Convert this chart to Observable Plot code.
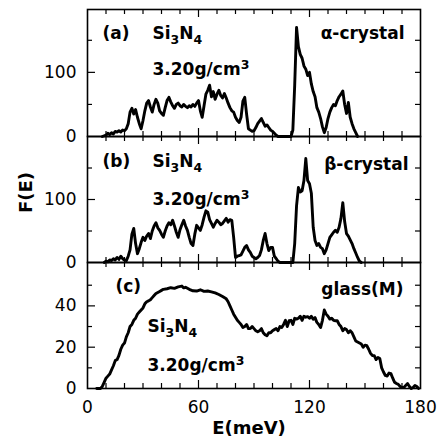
<!DOCTYPE html>
<html><head><meta charset="utf-8">
<script src="https://cdn.jsdelivr.net/npm/d3@7"></script>
<script src="https://cdn.jsdelivr.net/npm/@observablehq/plot@0.6"></script>
<style>
body{margin:0;background:#fff;}
#chart{position:relative;width:439px;height:438px;overflow:hidden;}
#chart svg{position:absolute;left:0;}
</style></head><body><div id="chart"></div>
<script>
// [E (meV), F(E)]
const alphaCrystal = [[8,0],[10,2],[11,5],[12,3],[13,6],[14,4],[15,8],[16,7],[17,9],[18,7],[19,10],[20,9],[21,12],[22,20],[23,38],[24,44],[25,35],[26,42],[27,30],[28,20],[29,12],[30,25],[31,40],[32,52],[33,56],[34,46],[35,38],[36,50],[37,58],[38,52],[39,40],[40,36],[41,33],[42,45],[43,56],[44,61],[45,54],[46,48],[47,44],[48,50],[49,52],[50,48],[51,46],[52,50],[53,47],[54,45],[55,48],[56,46],[57,50],[58,47],[59,52],[60,56],[61,40],[62,30],[63,48],[64,66],[65,72],[66,80],[67,62],[68,70],[69,58],[70,66],[71,72],[72,64],[73,60],[74,67],[75,60],[76,52],[77,45],[78,40],[79,38],[80,30],[81,25],[82,22],[83,30],[84,55],[85,61],[86,35],[87,12],[88,10],[89,8],[90,9],[91,14],[92,20],[93,24],[94,28],[95,22],[96,16],[97,18],[98,14],[99,10],[100,8],[101,5],[102,2],[103,0],[110,0],[111,10],[112,80],[113,170],[114,140],[115,128],[116,122],[117,110],[118,105],[119,95],[120,100],[121,82],[122,70],[123,62],[124,45],[125,38],[126,28],[127,15],[128,6],[129,14],[130,28],[131,38],[132,45],[133,50],[134,48],[135,56],[136,62],[137,66],[138,71],[139,50],[140,36],[141,53],[142,30],[143,20],[144,12],[145,6],[146,0]];

const betaCrystal = [[9,0],[10,2],[11,1],[12,4],[13,3],[14,6],[15,4],[16,8],[17,5],[18,10],[19,6],[20,4],[21,3],[22,10],[23,20],[24,45],[25,54],[26,30],[27,14],[28,22],[29,32],[30,40],[31,35],[32,42],[33,46],[34,38],[35,50],[36,58],[37,63],[38,55],[39,51],[40,45],[41,40],[42,50],[43,58],[44,63],[45,60],[46,67],[47,58],[48,48],[49,40],[50,52],[51,60],[52,67],[53,58],[54,51],[55,40],[56,30],[57,27],[58,45],[59,59],[60,55],[61,51],[62,60],[63,72],[64,82],[65,80],[66,68],[67,62],[68,56],[69,62],[70,67],[71,64],[72,60],[73,62],[74,66],[75,70],[76,64],[77,68],[78,67],[79,40],[80,8],[81,10],[82,11],[83,12],[84,18],[85,24],[86,27],[87,20],[88,16],[89,10],[90,8],[91,6],[92,8],[93,11],[94,20],[95,35],[96,46],[97,30],[98,19],[99,24],[100,24],[101,10],[102,6],[103,2],[104,0],[111,0],[112,30],[113,90],[114,119],[115,112],[116,114],[117,130],[118,165],[119,130],[120,125],[121,110],[122,56],[123,35],[124,27],[125,30],[126,24],[127,22],[128,14],[129,20],[130,30],[131,40],[132,44],[133,48],[134,51],[135,48],[136,56],[137,70],[138,95],[139,65],[140,46],[141,42],[142,36],[143,30],[144,22],[145,15],[146,8],[147,2],[148,0]];

const glassM = [[5,0],[7,0],[8,1],[9,3],[10,5],[11,6],[12,7],[13,9],[14,11],[15,13.5],[16,14],[17,16],[18,19],[19,21],[20,22],[21,25],[22,27],[23,30],[24,31],[25,33],[26,34],[27,36],[28,37],[29,38],[30,39],[31,41],[32,42],[33,42.4],[34,43],[35,44],[36,45],[37,46],[38,46.5],[39,47],[40,47.5],[41,48],[43,48.3],[45,48.8],[47,48.5],[49,49.2],[51,49.6],[52,48.7],[53,49],[55,48],[57,47.3],[59,47.2],[61,47.8],[63,47],[65,47.2],[67,46.8],[69,46.3],[71,45.5],[73,44.5],[75,43.4],[76,42],[77,40],[78,38],[79,36],[80,34.5],[81,33],[82,32],[83,31],[84,29.5],[85,30],[86,31],[87,29],[88,29],[89,30],[90,29],[91,28],[92,27.5],[93,28],[94,29],[95,27],[96,26],[97,25.5],[98,27],[99,27],[100,28],[101,28.5],[102,29],[103,28],[104,30],[105,29.5],[106,31],[107,33],[108,30],[109,32.8],[110,33],[111,31],[112,34],[113,33.6],[114,34],[115,35],[116,33],[117,35],[118,34.5],[119,34.8],[120,34],[121,35],[122,33.5],[123,34.3],[124,32],[125,31],[126,29.5],[127,33],[128,38],[129,36],[130,35],[131,33.6],[132,34],[133,33],[134,32.8],[135,32.8],[136,31],[137,30],[138,28],[139,29],[140,28.5],[141,27],[142,28],[143,27],[144,25],[145,23],[146,22.5],[147,22],[148,21.5],[149,20],[150,21],[151,20.7],[152,19],[153,17],[154,16],[155,15.9],[156,14],[157,15],[158,14.5],[159,10],[160,8],[161,6.3],[162,6],[163,7.5],[164,7.2],[165,5],[166,3],[167,2.4],[168,2],[169,1],[170,0.5],[171,0.5],[172,1.5],[173,2.4],[174,1],[175,0],[176,0.5],[177,1.5],[178,1],[179,0]];

const xMinorTicks = [10,20,30,40,50,70,80,90,100,110,130,140,150,160,170];
const xMajorTicks = [60,120];
const xTickLabels = [0,60,120,180];
const crystalMinorTicks = [50,150];
const crystalMajorTicks = [100];
const crystalTickLabels = [0,100];
const glassMinorTicks = [10,30,50];
const glassMajorTicks = [20,40];
const glassTickLabels = [0,20,40];

const FONT = "'DejaVu Sans', 'Liberation Sans', sans-serif";
const W = 439, ML = 87, MR = 19;
const IW = W - ML - MR;

// rich text: parts with sub/superscripts, applied to Plot's text elements
const richText = {
  "Si3N4": [["Si", 0], ["3", 1], ["N", -1], ["4", 1]],
  "3.20g/cm3": [["3.20g/cm", 0], ["3", -1]]
};

function panel({data, yDomain, yMinor, yMajor, yLabels, top, height, marginBottom, texts, xAxis}) {
  const IH = height - 9 - marginBottom;
  const marks = [
    Plot.ruleX(xMinorTicks, {x: d => d, insetTop: IH - 5, strokeWidth: 1.2}),
    Plot.ruleX(xMinorTicks, {x: d => d, insetBottom: IH - 5, strokeWidth: 1.2}),
    Plot.ruleX(xMajorTicks, {x: d => d, insetTop: IH - 8, strokeWidth: 1.2}),
    Plot.ruleX(xMajorTicks, {x: d => d, insetBottom: IH - 8, strokeWidth: 1.2}),
    Plot.ruleY(yMinor, {y: d => d, insetRight: IW - 5, strokeWidth: 1.2}),
    Plot.ruleY(yMinor, {y: d => d, insetLeft: IW - 5, strokeWidth: 1.2}),
    Plot.ruleY(yMajor, {y: d => d, insetRight: IW - 8, strokeWidth: 1.2}),
    Plot.ruleY(yMajor, {y: d => d, insetLeft: IW - 5, strokeWidth: 1.2}),
    Plot.axisY(yLabels, {tickSize: 0, tickPadding: 11, label: null, fontSize: 17}),
    Plot.line(data, {x: d => d[0], y: d => d[1], strokeWidth: 2.9, strokeLinejoin: "round"}),
    Plot.frame({strokeWidth: 1.6}),
    ...texts.map(t => Plot.text([t.text], {
      text: d => d, frameAnchor: t.anchor, dx: t.dx, dy: t.dy,
      textAnchor: t.textAnchor || "start", lineAnchor: "middle",
      fontWeight: "bold", fontSize: t.size || 17, rotate: t.rotate || 0
    }))
  ];
  if (xAxis) marks.push(Plot.axisX(xTickLabels, {tickSize: 0, tickPadding: 12, label: null, fontSize: 17}));
  const svg = Plot.plot({
    width: W, height,
    marginLeft: ML, marginRight: MR, marginTop: 9, marginBottom,
    style: {fontFamily: FONT, fontSize: "17px", background: "transparent", overflow: "visible", color: "black"},
    x: {domain: [0, 180], axis: null},
    y: {domain: yDomain, axis: null},
    marks
  });
  d3.select(svg).selectAll("text").each(function() {
    const parts = richText[this.textContent];
    if (!parts) return;
    const el = d3.select(this);
    el.text(null);
    let shift = 0;
    for (const [s, pos] of parts) {
      const ts = el.append("tspan").text(s);
      const target = pos === 1 ? 5 : pos === -1 ? -6 : 0;
      if (pos === -1 && s === "N") { ts.attr("dy", -5); shift = 0; continue; }
      const d = target - shift;
      if (d) ts.attr("dy", d);
      shift = target;
      if (pos !== 0) ts.attr("font-size", 12.5);
    }
  });
  svg.style.top = top + "px";
  document.getElementById("chart").appendChild(svg);
}

panel({data: alphaCrystal, yDomain: [0, 198], yMinor: crystalMinorTicks, yMajor: crystalMajorTicks, yLabels: crystalTickLabels,
  top: 0, height: 140, marginBottom: 4, xAxis: false,
  texts: [
    {text: "(a)", anchor: "top-left", dx: 15, dy: 24},
    {text: "Si3N4", anchor: "top-left", dx: 65, dy: 24},
    {text: "3.20g/cm3", anchor: "top-left", dx: 65, dy: 60},
    {text: "α-crystal", anchor: "top-right", dx: -16, dy: 24, textAnchor: "end"}
  ]});

panel({data: betaCrystal, yDomain: [0, 200], yMinor: crystalMinorTicks, yMajor: crystalMajorTicks, yLabels: crystalTickLabels,
  top: 127, height: 140, marginBottom: 5, xAxis: false,
  texts: [
    {text: "(b)", anchor: "top-left", dx: 15, dy: 25},
    {text: "Si3N4", anchor: "top-left", dx: 65, dy: 25},
    {text: "3.20g/cm3", anchor: "top-left", dx: 65, dy: 63},
    {text: "β-crystal", anchor: "top-right", dx: -12, dy: 28, textAnchor: "end"},
    {text: "F(E)", anchor: "left", dx: -61, dy: -7, textAnchor: "middle", rotate: -90, size: 18}
  ]});

panel({data: glassM, yDomain: [0, 61], yMinor: glassMinorTicks, yMajor: glassMajorTicks, yLabels: glassTickLabels,
  top: 253, height: 185, marginBottom: 50, xAxis: true,
  texts: [
    {text: "(c)", anchor: "top-left", dx: 28, dy: 24},
    {text: "Si3N4", anchor: "top-left", dx: 60, dy: 64},
    {text: "3.20g/cm3", anchor: "top-left", dx: 60, dy: 103},
    {text: "glass(M)", anchor: "top-right", dx: -17, dy: 27, textAnchor: "end"},
    {text: "E(meV)", anchor: "bottom", dx: -5, dy: 40, textAnchor: "middle", size: 18}
  ]});
</script></body></html>
